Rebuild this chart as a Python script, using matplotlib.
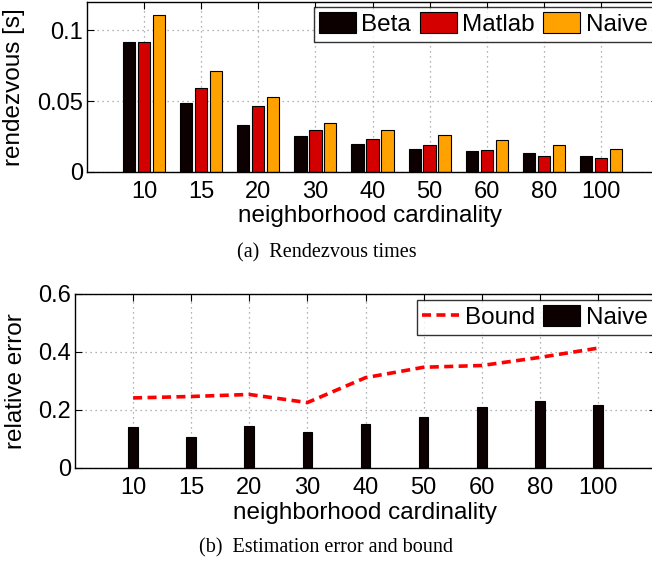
import matplotlib
matplotlib.use("Agg")
import matplotlib.pyplot as plt
import numpy as np

categories = ["10", "15", "20", "30", "40", "50", "60", "80", "100"]
beta = [0.0915, 0.0484, 0.0329, 0.0251, 0.0199, 0.0164, 0.0148, 0.0131, 0.0115]
matlab = [0.0915, 0.0596, 0.0465, 0.0293, 0.0232, 0.0190, 0.0155, 0.0113, 0.0096]
naive_time = [0.1106, 0.0716, 0.0526, 0.0345, 0.0293, 0.0258, 0.0223, 0.0190, 0.0162]
naive_err = [0.139, 0.105, 0.143, 0.122, 0.152, 0.174, 0.208, 0.230, 0.216]
bound = [0.241, 0.246, 0.253, 0.225, 0.311, 0.347, 0.353, 0.381, 0.413]

plt.rcParams['font.family'] = ['Liberation Sans', 'DejaVu Sans']
W, H = 652, 564
fig = plt.figure(figsize=(W / 100, H / 100), dpi=100)

def fx(px):
    return px / W

def fy(py):
    return 1 - py / H

c_black = '#0c0000'
c_red = '#d40000'
c_orange = '#ffa200'
grid_kw = dict(color='#9a9a9a', linestyle=(0, (1, 3)), linewidth=0.9)
TICK_FS = 17
LABEL_FS = 17.5
LEG_FS = 17.5

def style(ax):
    ax.tick_params(direction='in', length=5, width=0.8, top=True, right=True,
                   labelsize=TICK_FS)
    ax.tick_params(axis='x', pad=6.5)
    ax.tick_params(axis='y', pad=3)
    for s in ax.spines.values():
        s.set_linewidth(1.0)
    ax.set_axisbelow(True)
    ax.grid(True, **grid_kw)

leg_kw = dict(fontsize=LEG_FS, frameon=True, fancybox=False, edgecolor='black',
              handlelength=1.52, handleheight=0.95, handletextpad=0.22,
              columnspacing=0.36, borderpad=0.22, borderaxespad=0)

x = np.arange(1, len(categories) + 1)

# ---- top axes ----
ax1 = fig.add_axes([fx(87), fy(172), fx(571), 170 / H])
bw = 0.215
off = 0.262
ax1.bar(x - off, beta, bw, color=c_black, edgecolor='black', linewidth=0.8, label='Beta')
ax1.bar(x, matlab, bw, color=c_red, edgecolor='black', linewidth=0.8, label='Matlab')
ax1.bar(x + off, naive_time, bw, color=c_orange, edgecolor='black', linewidth=0.8, label='Naive')
ax1.set_xlim(0, 10)
ax1.set_ylim(0, 0.12)
ax1.set_xticks(x)
ax1.set_xticklabels(categories)
ax1.set_yticks([0, 0.05, 0.1])
ax1.set_yticklabels(['0', '0.05', '0.1'])
style(ax1)
ax1.set_xlabel('neighborhood cardinality', fontsize=LABEL_FS)
ax1.set_ylabel('rendezvous [s]', fontsize=LABEL_FS)
ax1.xaxis.set_label_coords((370 - 87) / 571, -(205 - 172) / 170)
ax1.yaxis.set_label_coords(-(87 - 25.5) / 571, 0.5)
leg1 = ax1.legend(ncol=3, loc='upper right', bbox_to_anchor=((653 - 87) / 571, (172 - 7) / 170),
                  **leg_kw)
leg1.get_frame().set_linewidth(1.0)

# ---- bottom axes ----
ax2 = fig.add_axes([fx(75), fy(467.7), fx(581), 173.7 / H])
ax2.bar(x, naive_err, 0.167, color=c_black, edgecolor='black', linewidth=0.8, label='Naive', zorder=2)
ax2.plot(x, bound, color='#ff0000', linestyle=(0, (2.5, 1.5)), linewidth=2.6, label='Bound', zorder=3)
ax2.set_xlim(0, 10)
ax2.set_ylim(0, 0.6)
ax2.set_xticks(x)
ax2.set_xticklabels(categories)
ax2.set_yticks([0, 0.2, 0.4, 0.6])
ax2.set_yticklabels(['0', '0.2', '0.4', '0.6'])
style(ax2)
ax2.set_xlabel('neighborhood cardinality', fontsize=LABEL_FS)
ax2.set_ylabel('relative error', fontsize=LABEL_FS)
ax2.xaxis.set_label_coords((365 - 75) / 581, -(502.5 - 467.7) / 173.7)
ax2.yaxis.set_label_coords(-(75 - 27.5) / 581, 0.5)
h, l = ax2.get_legend_handles_labels()
order = [l.index('Bound'), l.index('Naive')]
leg2 = ax2.legend([h[i] for i in order], [l[i] for i in order], ncol=2, loc='upper right',
                  bbox_to_anchor=((653 - 75) / 581, (467.7 - 300) / 173.7), **leg_kw)
leg2.get_frame().set_linewidth(1.0)

# captions
fig.text(fx(327), fy(252.5), '(a)  Rendezvous times', ha='center', va='center',
         fontsize=14.5, family=['Liberation Serif', 'DejaVu Serif'])
fig.text(fx(326), fy(548), '(b)  Estimation error and bound', ha='center', va='center',
         fontsize=14.5, family=['Liberation Serif', 'DejaVu Serif'])

fig.savefig('out.png', dpi=100)
